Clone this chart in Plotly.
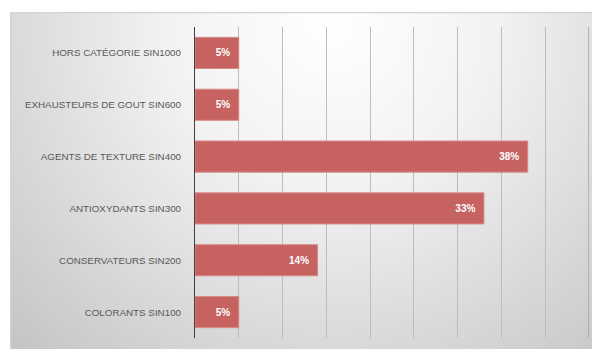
import base64
import plotly.graph_objects as go

categories = [
    "COLORANTS SIN100",
    "CONSERVATEURS SIN200",
    "ANTIOXYDANTS SIN300",
    "AGENTS DE TEXTURE SIN400",
    "EXHAUSTEURS DE GOUT SIN600",
    "HORS CATÉGORIE SIN1000",
]
values = [5, 14, 33, 38, 5, 5]
labels = [f"{v}%" for v in values]

W, H = 592, 349
L, R, T, B = 195, 3, 27, 11
pw, ph = W - L - R, H - T - B

svg = """<svg xmlns='http://www.w3.org/2000/svg' width='582' height='337' viewBox='0 0 582 337'>
<defs><radialGradient id='g' gradientUnits='userSpaceOnUse' cx='320' cy='10' r='470'>
<stop offset='0' stop-color='#FFFFFF'/><stop offset='0.35' stop-color='#F2F2F2'/>
<stop offset='1' stop-color='#C2C2C2'/></radialGradient></defs>
<rect x='0' y='0' width='582' height='337' fill='url(#g)'/>
<line x1='0' y1='0.5' x2='582' y2='0.5' stroke='#D4D4D4' stroke-width='1.5'/>
<line x1='0.5' y1='0' x2='0.5' y2='337' stroke='#D4D4D4' stroke-width='1.5'/>
</svg>"""
src = "data:image/svg+xml;base64," + base64.b64encode(svg.encode()).decode()

fig = go.Figure(
    go.Bar(
        x=values,
        y=categories,
        orientation="h",
        width=0.6,
        marker=dict(color="#C66260", line=dict(color="#D88A88", width=1)),
        text=[t + "\u00a0\u00a0" for t in labels],
        textposition="inside",
        insidetextanchor="end",
        textangle=0,
        insidetextfont=dict(family="Liberation Sans", size=10, color="white", weight="bold"),
        constraintext="none",
        hoverinfo="skip",
    )
)

fig.add_layout_image(
    source=src,
    xref="paper", yref="paper",
    x=(10 - L) / pw, y=1 + (T - 12) / ph,
    sizex=582 / pw, sizey=337 / ph,
    sizing="stretch", xanchor="left", yanchor="top",
    layer="below",
)

# right edge of the plot frame (last gridline position)
fig.add_shape(
    type="line", xref="paper", yref="paper",
    x0=0.999, x1=0.999, y0=0, y1=1,
    line=dict(color="#B0B0B0", width=1), layer="above",
)

fig.update_layout(
    width=W, height=H,
    margin=dict(l=L, r=R, t=T, b=B),
    paper_bgcolor="white",
    plot_bgcolor="rgba(0,0,0,0)",
    showlegend=False,
    bargap=0.4,
    xaxis=dict(
        range=[0, 45], dtick=5, tick0=0, showticklabels=False,
        showgrid=True, gridcolor="#BDBDBD", gridwidth=1,
        zeroline=False, showline=False, fixedrange=True,
    ),
    yaxis=dict(
        categoryorder="array", categoryarray=categories,
        showline=True, linecolor="#404040", linewidth=1,
        showgrid=False, ticks="", ticklabelstandoff=11,
        tickfont=dict(family="Liberation Sans", size=9.8, color="#595959"),
        fixedrange=True,
    ),
)

fig.write_html("out.html", config={"displayModeBar": False})
